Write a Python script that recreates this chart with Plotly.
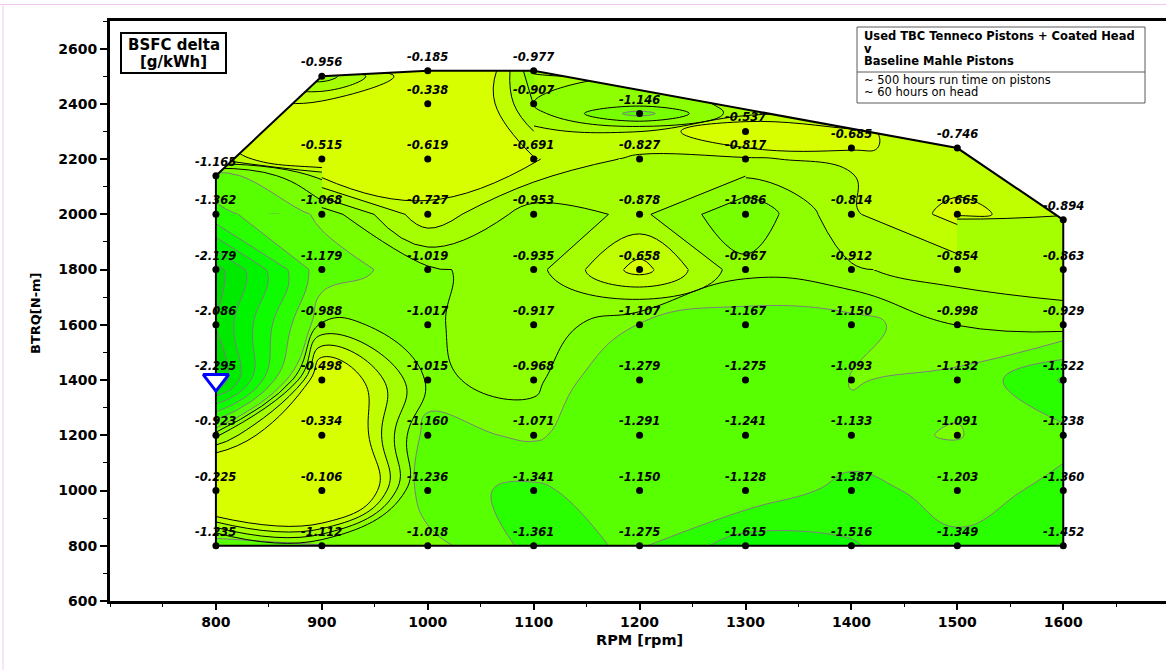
import plotly.graph_objects as go

# ---------------- data ----------------
rpm_cols = [800, 900, 1000, 1100, 1200, 1300, 1400, 1500, 1600]

btrq_800 = [800, 1000, 1200, 1400, 1600, 1800, 2000, 2140]
dbsfc_800 = [-1.235, -0.225, -0.923, -2.295, -2.086, -2.179, -1.362, -1.165]

btrq_900 = [800, 1000, 1200, 1400, 1600, 1800, 2000, 2200, 2500]
dbsfc_900 = [-1.112, -0.106, -0.334, -0.498, -0.988, -1.179, -1.068, -0.515, -0.956]

btrq_1000 = [800, 1000, 1200, 1400, 1600, 1800, 2000, 2200, 2400, 2520]
dbsfc_1000 = [-1.018, -1.236, -1.160, -1.015, -1.017, -1.019, -0.727, -0.619, -0.338, -0.185]

btrq_1100 = [800, 1000, 1200, 1400, 1600, 1800, 2000, 2200, 2400, 2520]
dbsfc_1100 = [-1.361, -1.341, -1.071, -0.968, -0.917, -0.935, -0.953, -0.691, -0.907, -0.977]

btrq_1200 = [800, 1000, 1200, 1400, 1600, 1800, 2000, 2200, 2365]
dbsfc_1200 = [-1.275, -1.150, -1.291, -1.279, -1.107, -0.658, -0.878, -0.827, -1.146]

btrq_1300 = [800, 1000, 1200, 1400, 1600, 1800, 2000, 2200, 2300]
dbsfc_1300 = [-1.615, -1.128, -1.241, -1.275, -1.167, -0.967, -1.086, -0.817, -0.537]

btrq_1400 = [800, 1000, 1200, 1400, 1600, 1800, 2000, 2240]
dbsfc_1400 = [-1.516, -1.387, -1.133, -1.093, -1.150, -0.912, -0.814, -0.685]

btrq_1500 = [800, 1000, 1200, 1400, 1600, 1800, 2000, 2240]
dbsfc_1500 = [-1.349, -1.203, -1.091, -1.132, -0.998, -0.854, -0.665, -0.746]

btrq_1600 = [800, 1000, 1200, 1400, 1600, 1800, 1980]
dbsfc_1600 = [-1.452, -1.360, -1.238, -1.522, -0.929, -0.863, -0.894]

marker_rpm = [800]
marker_btrq = [1400]

x_ticks = [800, 900, 1000, 1100, 1200, 1300, 1400, 1500, 1600]
y_ticks = [600, 800, 1000, 1200, 1400, 1600, 1800, 2000, 2200, 2400, 2600]

# ---------------- assemble ----------------
cols = [
    (800, btrq_800, dbsfc_800), (900, btrq_900, dbsfc_900),
    (1000, btrq_1000, dbsfc_1000), (1100, btrq_1100, dbsfc_1100),
    (1200, btrq_1200, dbsfc_1200), (1300, btrq_1300, dbsfc_1300),
    (1400, btrq_1400, dbsfc_1400), (1500, btrq_1500, dbsfc_1500),
    (1600, btrq_1600, dbsfc_1600),
]
X, Y, Z = [], [], []
for r, ts, vs in cols:
    for t, v in zip(ts, vs):
        X.append(r); Y.append(t); Z.append(v)

# convex hull of the measured points (operating envelope)
def cross(o, a, b):
    return (a[0] - o[0]) * (b[1] - o[1]) - (a[1] - o[1]) * (b[0] - o[0])

pts = sorted(set(zip(X, Y)))
upper, lower = [], []
for p in pts:
    while len(upper) >= 2 and cross(upper[-2], upper[-1], p) >= 0:
        upper.pop()
    upper.append(p)
    while len(lower) >= 2 and cross(lower[-2], lower[-1], p) <= 0:
        lower.pop()
    lower.append(p)
hull = lower[:-1] + upper[::-1]

# ---------------- band colours ----------------
C = ['rgb(0,222,0)', 'rgb(0,234,0)', 'rgb(0,244,0)', 'rgb(14,252,0)',
     'rgb(42,255,0)', 'rgb(88,255,0)', 'rgb(120,255,0)', 'rgb(142,255,0)',
     'rgb(166,255,0)', 'rgb(192,255,0)', 'rgb(216,255,0)', 'rgb(246,240,0)']
edges = [-2.1, -1.9, -1.7, -1.5, -1.3, -1.1, -1.0, -0.9, -0.8, -0.7, -0.1]

def band_color(m):
    for e, c in zip(edges, C):
        if m < e:
            return c
    return C[-1]

c_start, c_end, c_size = -2.4, 0.0, 0.1
nb = 25
colorscale = [[k / nb, band_color(c_start - c_size / 2 + c_size * k)] for k in range(nb + 1)]

fig = go.Figure()

def add_contours(xs, ys, zs):
    common = dict(x=xs, y=ys, z=zs, connectgaps=True, autocontour=False,
                  showscale=False, hoverinfo='skip')
    fig.add_trace(go.Contour(
        contours=dict(start=c_start, end=c_end, size=c_size, coloring='fill', showlines=False),
        colorscale=colorscale, line=dict(width=0, smoothing=1.3), **common))
    fig.add_trace(go.Contour(
        contours=dict(start=-2.1, end=-1.1, size=0.2, coloring='none'),
        line=dict(color='rgb(125,125,125)', width=1, smoothing=1.3), **common))
    fig.add_trace(go.Contour(
        contours=dict(start=-1.0, end=-0.7, size=0.1, coloring='none'),
        line=dict(color='black', width=1, smoothing=1.3), **common))
    fig.add_trace(go.Contour(
        contours=dict(start=-0.1, end=-0.1, size=0.1, coloring='none'),
        line=dict(color='black', width=1, smoothing=1.3), **common))

def subset(x0, x1, y0, y1):
    s = [(x, y, z) for x, y, z in zip(X, Y, Z) if x0 <= x <= x1 and y0 <= y <= y1]
    return [a[0] for a in s], [a[1] for a in s], [a[2] for a in s]

# whole envelope, then complete rectangular blocks of the grid on top of it
add_contours(X, Y, Z)
for blk in [(800, 1500, 1800, 2000), (900, 1300, 2000, 2200), (1000, 1100, 2200, 2520)]:
    add_contours(*subset(*blk))

# white mask above the envelope
up = upper[1:]
mask_x = [up[0][0] - 12] + [p[0] for p in up] + [up[-1][0] + 12, up[-1][0] + 12, up[0][0] - 12]
mask_y = [up[0][1]] + [p[1] for p in up] + [up[-1][1], 2695, 2695]
fig.add_trace(go.Scatter(x=mask_x, y=mask_y, mode='none', fill='toself',
                         fillcolor='white', hoverinfo='skip'))

# envelope outline
fig.add_trace(go.Scatter(x=[p[0] for p in hull] + [hull[0][0]],
                         y=[p[1] for p in hull] + [hull[0][1]],
                         mode='lines', line=dict(color='black', width=2), hoverinfo='skip'))

# measured points
fig.add_trace(go.Scatter(x=X, y=Y, mode='markers',
                         marker=dict(color='black', size=7), hoverinfo='skip'))

fig.add_trace(go.Scatter(x=marker_rpm, y=marker_btrq, mode='markers',
                         marker=dict(symbol='triangle-down', size=22, color='white',
                                     line=dict(color='rgb(0,0,255)', width=3)),
                         hoverinfo='skip'))

annotations = []
for x, y, z in zip(X, Y, Z):
    annotations.append(dict(x=x, y=y, xref='x', yref='y', text='<b><i>%.3f</i></b>' % z,
                            showarrow=False, yshift=14,
                            font=dict(family='DejaVu Sans', size=11.5, color='black')))

# pixel -> paper helpers (plot area: x 110..1166, y 21..601)
L, T, W, H = 110.0, 21.0, 1056.0, 580.0
def px(v): return (v - L) / W
def py(v): return (T + H - v) / H

shapes = []
# title box
shapes.append(dict(type='rect', xref='paper', yref='paper', x0=px(121), x1=px(226),
                   y0=py(33), y1=py(73), line=dict(color='black', width=2), fillcolor='white'))
annotations.append(dict(xref='paper', yref='paper', x=px(173.5), y=py(45), text='<b>BSFC delta</b>',
                        showarrow=False, xanchor='center', yanchor='middle',
                        font=dict(family='DejaVu Sans', size=15, color='black')))
annotations.append(dict(xref='paper', yref='paper', x=px(173.5), y=py(62), text='<b>[g/kWh]</b>',
                        showarrow=False, xanchor='center', yanchor='middle',
                        font=dict(family='DejaVu Sans', size=15, color='black')))

# description box
shapes.append(dict(type='rect', xref='paper', yref='paper', x0=px(857), x1=px(1145),
                   y0=py(27), y1=py(103), line=dict(color='rgb(90,90,90)', width=1), fillcolor='white'))
shapes.append(dict(type='line', xref='paper', yref='paper', x0=px(857), x1=px(1145),
                   y0=py(72), y1=py(72), line=dict(color='rgb(90,90,90)', width=1)))
desc = [('<b>Used TBC Tenneco Pistons + Coated Head</b>', 36),
        ('<b>v</b>', 48.5),
        ('<b>Baseline Mahle Pistons</b>', 61),
        ('~ 500 hours run time on pistons', 80),
        ('~ 60 hours on head', 92)]
for txt, yy in desc:
    annotations.append(dict(xref='paper', yref='paper', x=px(862), y=py(yy), text=txt,
                            showarrow=False, xanchor='left', yanchor='middle',
                            font=dict(family='DejaVu Sans', size=11.5, color='black')))

# axis titles
annotations.append(dict(xref='paper', yref='paper', x=px(639), y=py(640), text='<b>RPM [rpm]</b>',
                        showarrow=False, xanchor='center', yanchor='middle',
                        font=dict(family='DejaVu Sans', size=14.5, color='black')))
annotations.append(dict(xref='paper', yref='paper', x=px(35), y=py(313), text='<b>BTRQ[N-m]</b>',
                        showarrow=False, xanchor='center', yanchor='middle', textangle=-90,
                        font=dict(family='DejaVu Sans', size=13, color='black')))

# faint page border
shapes.append(dict(type='line', xref='paper', yref='paper', x0=px(0), x1=px(1166),
                   y0=py(4.5), y1=py(4.5), line=dict(color='rgb(242,200,242)', width=1)))
shapes.append(dict(type='line', xref='paper', yref='paper', x0=px(3), x1=px(3),
                   y0=py(4.5), y1=py(670), line=dict(color='rgb(242,200,242)', width=1)))

tickfont = dict(family='DejaVu Sans', size=14, color='black', weight='bold')

fig.update_layout(
    width=1166, height=670,
    margin=dict(l=110, r=0, t=21, b=69),
    paper_bgcolor='white', plot_bgcolor='white',
    showlegend=False,
    annotations=annotations, shapes=shapes,
    xaxis=dict(range=[700, 1697], tickmode='array', tickvals=x_ticks,
               ticks='outside', ticklen=6, tickwidth=1.5, tickcolor='black',
               showline=True, linecolor='black', linewidth=3, mirror=True,
               showgrid=False, zeroline=False, tickfont=tickfont,
               minor=dict(tickmode='linear', tick0=700, dtick=50, ticks='outside',
                          ticklen=3, tickwidth=1, tickcolor='black')),
    yaxis=dict(range=[600, 2700], tickmode='array', tickvals=y_ticks,
               ticks='outside', ticklen=7, tickwidth=1.5, tickcolor='black',
               showline=True, linecolor='black', linewidth=3,
               showgrid=False, zeroline=False, tickfont=tickfont,
               minor=dict(tickmode='linear', tick0=600, dtick=100, ticks='outside',
                          ticklen=4, tickwidth=1, tickcolor='black')),
)

# render the filled bands without edge antialiasing so the stacked blocks join seamlessly
crisp = ("document.querySelectorAll('.contourfill path, .contourbg path')"
         ".forEach(function(p){p.style.shapeRendering='crispEdges';});")
fig.write_html("out.html", post_script=crisp)
